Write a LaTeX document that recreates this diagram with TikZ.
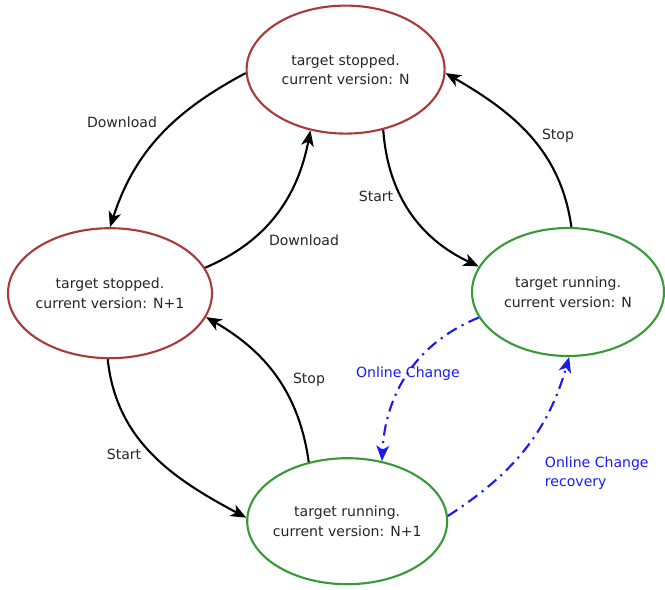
\documentclass[tikz,border=0pt]{standalone}
\usepackage{fontspec}
\setmainfont{DejaVu Sans}
\usepackage{tikz}
\usetikzlibrary{shapes.geometric}
\usetikzlibrary{arrows.meta}

\begin{document}
\begin{tikzpicture}[
		phase/.style={
			ellipse, draw=#1, line width=1.5pt, inner xsep=-8pt, inner ysep=0pt,
			minimum width=5cm, minimum height=3.2cm,
			font=\fontsize{10}{14}\selectfont, text=black!85, align=center
		},
		lbl/.style={
			font=\fontsize{10}{14}\selectfont, text=black!85, align=center
		},
		bluelbl/.style={
			font=\fontsize{10}{14}\selectfont, text=onlinecol, align=left
		},
		move/.style={
			draw=black, line width=1.5pt, -{Stealth[length=11pt,width=9pt,inset=3pt]}
		},
		online/.style={
			draw=onlinecol, line width=1.5pt,
			dash pattern=on 8pt off 4pt on 1.5pt off 4pt,
			-{Stealth[length=11pt,width=9pt,inset=3pt]}
		}
		]
		
		\definecolor{stoppedcol}{HTML}{A83A3A}
		\definecolor{runningcol}{HTML}{379A37}
		\definecolor{onlinecol}{HTML}{1A1AF0}
		
		\useasboundingbox (0,0) rectangle (16.625,-14.75);
		
		\node[phase=stoppedcol, minimum width=4.95cm] (stopN)  at (8.64, -1.74) {target stopped.\\current version: N};
		\node[phase=stoppedcol, minimum width=5.1cm, minimum height=3.25cm] (stopN1) at (2.75, -7.33) {target stopped.\\current version: N+1};
		\node[phase=runningcol, minimum width=4.8cm]  (runN)   at (14.2, -7.3)  {target running.\\current version: N};
		\node[phase=runningcol, minimum height=3.15cm] (runN1)  at (8.68, -13.03) {target running.\\current version: N+1};
		
		% transitions
		\draw[move] (stopN.182) to[out=208, in=72]  (stopN1.90);
		\draw[move] (stopN1.15) to[out=23,  in=259] (stopN.240);
		\draw[move] (stopN.302) to[out=274, in=155] (runN.164);
		\draw[move] (runN.87)   to[out=98,  in=330] (stopN.358);
		\draw[move] (runN1.123) to[out=98,  in=330] (stopN1.346);
		\draw[move] (stopN1.268) to[out=276, in=152] (runN1.178);
		\draw[online] (runN.196) to[out=202, in=87]  (runN1.60);
		\draw[online] (runN1.3)  to[out=33,  in=254] (runN.271);
		
		\node[lbl] (dl1)   at (3.05, -3.05)  {Download};
		\node[lbl] (dl2)   at (7.6,  -6.0)   {Download};
		\node[lbl] (st1)   at (9.4,  -4.9)   {Start};
		\node[lbl] (sp1)   at (13.95,-3.4)   {Stop};
		\node[lbl] (sp2)   at (7.725,-9.5)   {Stop};
		\node[lbl] (st2)   at (3.1,  -11.35) {Start};
		\node[bluelbl] (oc)  at (10.2, -9.35)  {Online Change};
		\node[bluelbl, anchor=west] (ocr) at (13.5, -11.83) {Online Change\\recovery};
		
	\end{tikzpicture}
\end{document}
